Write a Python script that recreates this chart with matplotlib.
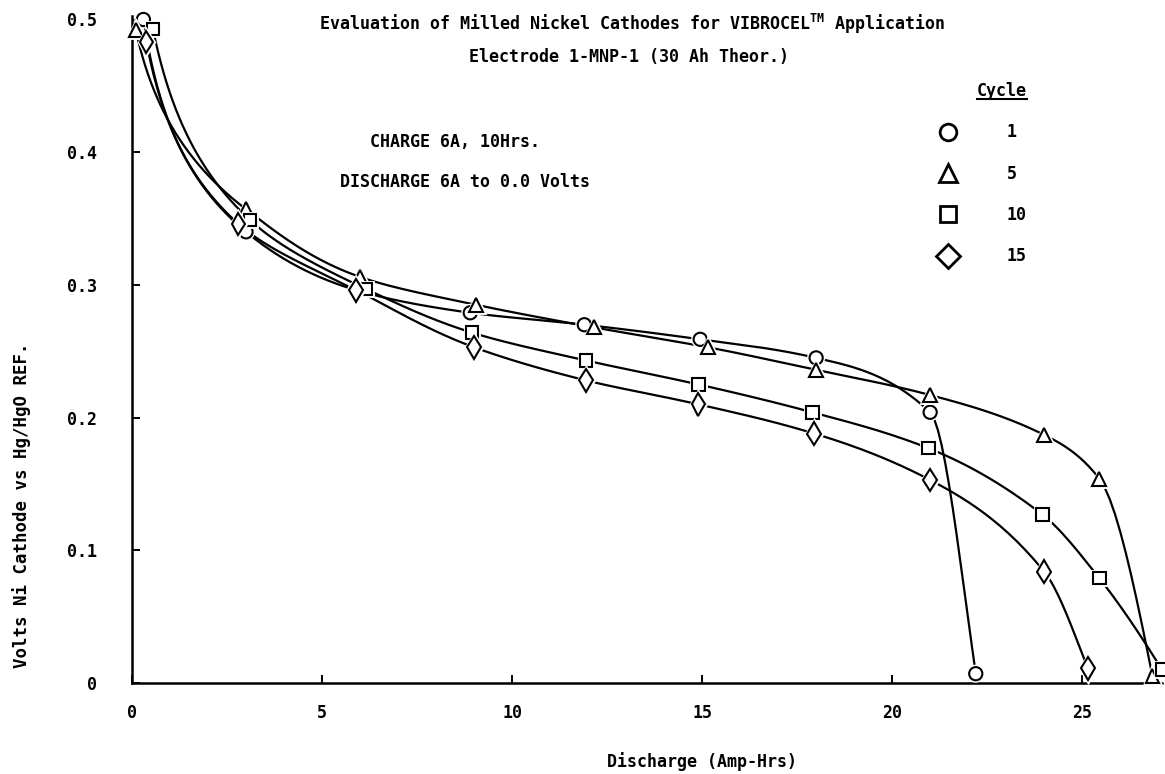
import numpy as np
import matplotlib
matplotlib.use("Agg")
import matplotlib.pyplot as plt
import matplotlib.patheffects as pe
from matplotlib.lines import Line2D

# ---- data: discharge capacity (Ah) vs cathode potential (V) per cycle ----
cycles = ["1", "5", "10", "15"]
marker_styles = ["o", "^", "s", "d"]

ah_c1 = [0.3, 3.0, 5.9, 8.9, 11.9, 14.95, 18.0, 21.0, 22.2]
v_c1 = [0.500, 0.340, 0.296, 0.279, 0.270, 0.259, 0.245, 0.204, 0.007]

ah_c5 = [0.1, 3.0, 6.0, 9.05, 12.15, 15.15, 18.0, 21.0, 24.0, 25.45, 26.85]
v_c5 = [0.492, 0.357, 0.306, 0.285, 0.268, 0.253, 0.236, 0.217, 0.187, 0.154, 0.005]

ah_c10 = [0.55, 3.1, 6.15, 8.95, 11.95, 14.9, 17.9, 20.95, 23.95, 25.45, 27.1]
v_c10 = [0.493, 0.349, 0.297, 0.264, 0.243, 0.225, 0.204, 0.177, 0.127, 0.079, 0.010]

ah_c15 = [0.38, 2.8, 5.9, 9.0, 11.95, 14.9, 17.95, 21.0, 24.0, 25.15]
v_c15 = [0.483, 0.346, 0.296, 0.253, 0.228, 0.210, 0.188, 0.153, 0.084, 0.011]

x_ticks = [0, 5, 10, 15, 20, 25]
x_tick_labels = ["0", "5", "10", "15", "20", "25"]
y_ticks = [0.0, 0.1, 0.2, 0.3, 0.4, 0.5]
y_tick_labels = ["0", "0.1", "0.2", "0.3", "0.4", "0.5"]

series = [(ah_c1, v_c1), (ah_c5, v_c5), (ah_c10, v_c10), (ah_c15, v_c15)]


def pchip(x, y, xs):
    """Monotone piecewise cubic Hermite interpolation (Fritsch-Carlson)."""
    x = np.asarray(x, float)
    y = np.asarray(y, float)
    h = np.diff(x)
    d = np.diff(y) / h
    n = len(x)
    m = np.zeros(n)
    for k in range(1, n - 1):
        if d[k - 1] * d[k] > 0:
            w1 = 2 * h[k] + h[k - 1]
            w2 = h[k] + 2 * h[k - 1]
            m[k] = (w1 + w2) / (w1 / d[k - 1] + w2 / d[k])

    def end_slope(h0, h1, d0, d1):
        s = ((2 * h0 + h1) * d0 - h0 * d1) / (h0 + h1)
        if np.sign(s) != np.sign(d0):
            s = 0.0
        elif np.sign(d0) != np.sign(d1) and abs(s) > abs(3 * d0):
            s = 3 * d0
        return s

    m[0] = end_slope(h[0], h[1], d[0], d[1])
    m[-1] = end_slope(h[-1], h[-2], d[-1], d[-2])
    idx = np.clip(np.searchsorted(x, xs) - 1, 0, n - 2)
    t = (xs - x[idx]) / h[idx]
    h00 = 2 * t**3 - 3 * t**2 + 1
    h10 = t**3 - 2 * t**2 + t
    h01 = -2 * t**3 + 3 * t**2
    h11 = t**3 - t**2
    return (h00 * y[idx] + h10 * h[idx] * m[idx]
            + h01 * y[idx + 1] + h11 * h[idx] * m[idx + 1])


def smooth_curve(xs, ys, n=800):
    """Smooth discharge curve, interpolated on a log-capacity scale."""
    u = np.log(np.asarray(xs, float) + 0.3)
    uu = np.linspace(u[0], u[-1], n)
    return np.exp(uu) - 0.3, pchip(u, ys, uu)


FONT = "DejaVu Sans Mono"
plt.rcParams["font.family"] = [FONT]
plt.rcParams["font.weight"] = "bold"
plt.rcParams["mathtext.fontset"] = "custom"
plt.rcParams["mathtext.rm"] = FONT + ":bold"
plt.rcParams["mathtext.bf"] = FONT + ":bold"

W, H = 1165, 774
fig = plt.figure(figsize=(W / 100, H / 100), dpi=100)
fig.patch.set_facecolor("white")

x0_px, x1_px, y0_px = 132, 1162, 683
ymax = 0.503
ax = fig.add_axes([x0_px / W, 1 - y0_px / H, (x1_px - x0_px) / W, ymax * 1327 / H])
ax.set_xlim(0, 27.1)
ax.set_ylim(0, ymax)

# smooth discharge curves
for (xs, ys) in series:
    cx, cy = smooth_curve(xs, ys)
    ax.plot(cx, cy, color="black", lw=1.6, solid_capstyle="round",
            zorder=2, clip_on=False)

# open markers with a white halo so the curves break around them
marker_sizes = {"o": 9.5, "^": 10, "s": 9, "d": 11.5}
for (xs, ys), mk in zip(series, marker_styles):
    ax.plot(xs, ys, linestyle="none", marker=mk, ms=marker_sizes[mk],
            mfc="white", mec="black", mew=1.5, zorder=3, clip_on=False,
            path_effects=[pe.Stroke(linewidth=3.5, foreground="white"), pe.Normal()])

for side in ("top", "right"):
    ax.spines[side].set_visible(False)
for side in ("left", "bottom"):
    ax.spines[side].set_linewidth(1.8)

ax.set_xticks(x_ticks)
ax.set_xticklabels(x_tick_labels)
ax.set_yticks(y_ticks)
ax.set_yticklabels(y_tick_labels)
ax.tick_params(axis="both", direction="in", length=6, width=1.4, labelsize=12)
ax.tick_params(axis="x", pad=15)
ax.tick_params(axis="y", pad=25)
for lab in ax.get_xticklabels() + ax.get_yticklabels():
    lab.set_fontweight("bold")

txt = dict(fontsize=12, fontweight="bold", color="black")
fig.text(632 / W, 1 - 24 / H,
         r"Evaluation of Milled Nickel Cathodes for VIBROCEL$^{\mathrm{TM}}$ Application",
         ha="center", va="center", **txt)
fig.text(629 / W, 1 - 57 / H, "Electrode 1-MNP-1 (30 Ah Theor.)",
         ha="center", va="center", **txt)
fig.text(370 / W, 1 - 142 / H, "CHARGE 6A, 10Hrs.", ha="left", va="center", **txt)
fig.text(340 / W, 1 - 182 / H, "DISCHARGE 6A to 0.0 Volts", ha="left", va="center", **txt)
fig.text(702 / W, 1 - 762 / H, "Discharge (Amp-Hrs)", ha="center", va="center", **txt)
fig.text(22 / W, 1 - 505 / H, "Volts Ni Cathode vs Hg/HgO REF.", rotation=90,
         ha="center", va="center", fontsize=12.5, fontweight="bold", color="black")

# legend
legend_sizes = {"o": 12, "^": 13, "s": 11, "d": 12}
handles = [Line2D([], [], linestyle="none", marker=("D" if mk == "d" else mk),
                  ms=legend_sizes[mk], mfc="white", mec="black", mew=2.0)
           for mk in marker_styles]
leg = ax.legend(handles, cycles, title="Cycle", frameon=False,
                loc="upper left", bbox_to_anchor=(940 / W, 1 - 82 / H),
                bbox_transform=fig.transFigure, handlelength=1.0,
                handletextpad=3.0, labelspacing=1.4, borderpad=0,
                borderaxespad=0, fontsize=12, title_fontsize=12,
                alignment="right")
leg.get_title().set_fontweight("bold")
for t in leg.get_texts():
    t.set_fontweight("bold")

# underline the legend title
fig.canvas.draw()
bb = leg.get_title().get_window_extent()
inv = fig.transFigure.inverted()
(ux0, uy0), (ux1, _) = inv.transform([(bb.x0, bb.y0 + 1), (bb.x1, bb.y0 + 1)])
fig.add_artist(Line2D([ux0, ux1], [uy0, uy0], transform=fig.transFigure,
                      color="black", lw=1.5))

fig.savefig("out.png", dpi=100, facecolor="white")
